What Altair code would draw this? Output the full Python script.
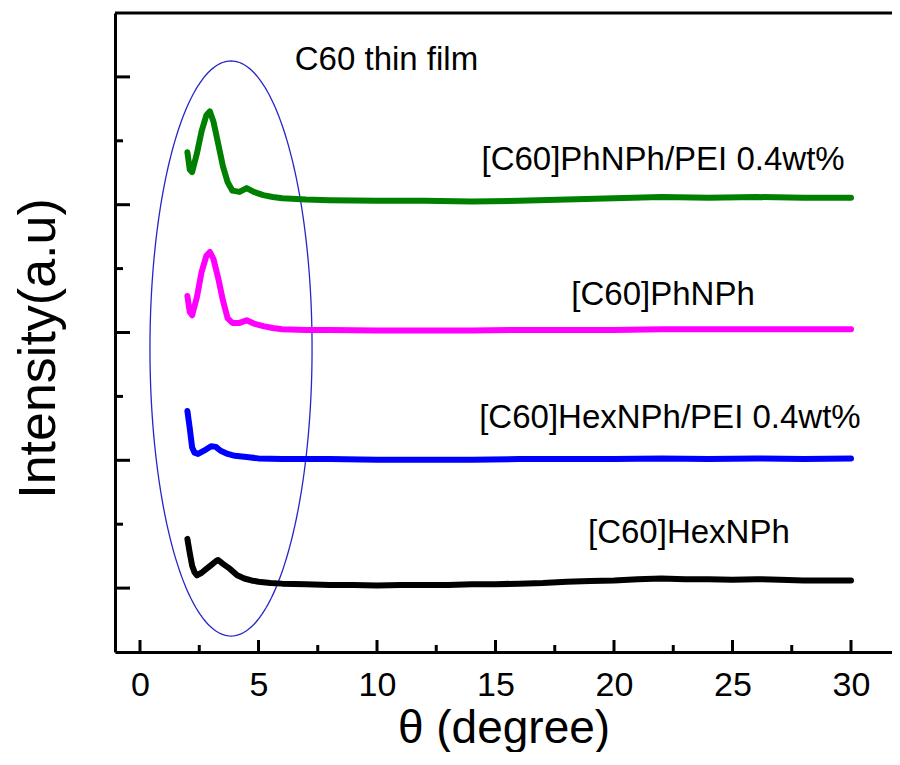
import altair as alt
import numpy as np
import pandas as pd

FONT = "Liberation Sans"

# ---- data (x = theta in degree, y = offset intensity, a.u.) ----
hex_x = [2.0, 2.1, 2.2, 2.3, 2.4, 2.6, 2.8, 3.0, 3.2, 3.3, 3.5, 3.8, 4.1, 4.4, 4.7, 5.0, 5.5, 6.0,
         7, 8, 9, 10, 11, 12, 13, 14, 15, 16, 17, 18, 19, 20, 21, 22, 23, 24, 25, 26, 27, 28, 29, 30]
hex_y = [0.77, 0.55, 0.35, 0.25, 0.20, 0.24, 0.30, 0.36, 0.42, 0.44, 0.38, 0.30, 0.20, 0.15, 0.12, 0.10, 0.08, 0.07,
         0.06, 0.05, 0.05, 0.04, 0.05, 0.05, 0.05, 0.06, 0.06, 0.07, 0.08, 0.10, 0.11, 0.12, 0.14, 0.15, 0.14, 0.14,
         0.13, 0.14, 0.13, 0.12, 0.12, 0.12]

hexpei_x = [2.0, 2.1, 2.2, 2.3, 2.45, 2.7, 3.0, 3.2, 3.4, 3.7, 4.0, 4.5, 5.0, 6, 8, 10, 12, 14, 16, 18, 20,
            22, 24, 26, 28, 30]
hexpei_y = [2.77, 2.50, 2.20, 2.12, 2.10, 2.15, 2.22, 2.21, 2.15, 2.10, 2.07, 2.05, 2.03, 2.02, 2.02, 2.01,
            2.01, 2.01, 2.02, 2.02, 2.02, 2.03, 2.02, 2.03, 2.02, 2.03]

ph_x = [2.0, 2.1, 2.2, 2.4, 2.6, 2.8, 2.95, 3.1, 3.3, 3.5, 3.7, 3.9, 4.2, 4.5, 4.8, 5.2, 5.6, 6.0,
        7, 8, 10, 12, 14, 16, 18, 20, 22, 24, 26, 28, 30]
ph_y = [4.57, 4.32, 4.27, 4.55, 4.95, 5.20, 5.26, 5.15, 4.85, 4.50, 4.22, 4.15, 4.15, 4.19, 4.14, 4.10, 4.07,
        4.05, 4.04, 4.04, 4.03, 4.03, 4.03, 4.04, 4.04, 4.04, 4.05, 4.05, 4.05, 4.05, 4.05]

phpei_x = [2.0, 2.1, 2.2, 2.4, 2.6, 2.8, 2.95, 3.1, 3.3, 3.5, 3.7, 3.9, 4.2, 4.5, 4.8, 5.2, 5.6, 6.0,
           7, 8, 10, 12, 14, 16, 18, 20, 22, 24, 26, 28, 30]
phpei_y = [6.82, 6.55, 6.51, 6.80, 7.15, 7.40, 7.46, 7.30, 6.95, 6.60, 6.35, 6.22, 6.20, 6.26, 6.20, 6.15,
           6.12, 6.10, 6.08, 6.07, 6.06, 6.06, 6.05, 6.06, 6.08, 6.10, 6.12, 6.11, 6.12, 6.11, 6.11]

series_names = ["[C60]HexNPh", "[C60]HexNPh/PEI 0.4wt%", "[C60]PhNPh", "[C60]PhNPh/PEI 0.4wt%"]
series_colors = ["#000000", "#0000FF", "#FF00FF", "#008000"]

label_texts = ["[C60]HexNPh", "[C60]HexNPh/PEI 0.4wt%", "[C60]PhNPh", "[C60]PhNPh/PEI 0.4wt%", "C60 thin film"]
label_x = [23.16, 22.36, 22.07, 22.07, 10.4]
label_y = [0.86, 2.66, 4.59, 6.70, 8.26]

x_ticks_major = [0, 5, 10, 15, 20, 25, 30]
x_ticks_minor = [2.5, 7.5, 12.5, 17.5, 22.5, 27.5]
y_ticks_major = [0, 2, 4, 6, 8]
y_ticks_minor = [1, 3, 5, 7]

# annotation ellipse (center and radii in data units)
ell_cx, ell_cy, ell_rx, ell_ry = 3.84, 3.75, 3.42, 4.5

# ---- tables ----
rows = []
for name, xs, ys in zip(series_names, [hex_x, hexpei_x, ph_x, phpei_x], [hex_y, hexpei_y, ph_y, phpei_y]):
    for a, b in zip(xs, ys):
        rows.append({"series": name, "x": a, "y": b})
lines_df = pd.DataFrame(rows)

t = np.linspace(0, 2 * np.pi, 241)
ell_df = pd.DataFrame({"x": ell_cx + ell_rx * np.cos(t), "y": ell_cy + ell_ry * np.sin(t), "i": np.arange(len(t))})

labels_df = pd.DataFrame({"text": label_texts, "x": label_x, "y": label_y})

xscale = alt.Scale(domain=[-1.055, 31.73], nice=False, zero=False)
yscale = alt.Scale(domain=[-1, 9], nice=False, zero=False)

W, H = 777, 639

xaxis = alt.Axis(values=x_ticks_major, ticks=False, grid=False, domainColor="black", domainWidth=3,
                 labelFont=FONT, labelFontSize=34, labelColor="black", labelPadding=16, labelFlush=False,
                 labelOverlap=False, title="θ (degree)", titleFont=FONT, titleFontSize=46,
                 titleFontWeight="normal", titleColor="black", titleBaseline="alphabetic", titleY=90)
yaxis = alt.Axis(labels=False, ticks=False, grid=False, domainColor="black", domainWidth=3,
                 title="Intensity(a.u)", titleFont=FONT, titleFontSize=52, titleFontWeight="normal",
                 titleColor="black", titlePadding=50, titleY=335)

X = alt.X("x:Q", scale=xscale, axis=xaxis)
Y = alt.Y("y:Q", scale=yscale, axis=yaxis)

lines = alt.Chart(lines_df).mark_line(strokeWidth=6, strokeJoin="round", strokeCap="round", clip=True).encode(
    x=X, y=Y,
    color=alt.Color("series:N", scale=alt.Scale(domain=series_names, range=series_colors), legend=None),
)

ellipse = alt.Chart(ell_df).mark_line(color="#2626C8", strokeWidth=1.3, clip=True).encode(
    x=X, y=Y, order=alt.Order("i:Q")
)

texts = alt.Chart(labels_df).mark_text(font=FONT, fontSize=33, color="black", align="center",
                                       baseline="middle").encode(x=X, y=Y, text="text:N")

xmaj = alt.Chart(pd.DataFrame({"x": x_ticks_major})).mark_rule(color="black", strokeWidth=3).encode(
    x=X, y=alt.value(H), y2=alt.value(H - 12))
xmin = alt.Chart(pd.DataFrame({"x": x_ticks_minor})).mark_rule(color="black", strokeWidth=3).encode(
    x=X, y=alt.value(H), y2=alt.value(H - 7))
ymaj = alt.Chart(pd.DataFrame({"y": y_ticks_major})).mark_rule(color="black", strokeWidth=3).encode(
    y=Y, x=alt.value(0), x2=alt.value(15))
ymin = alt.Chart(pd.DataFrame({"y": y_ticks_minor})).mark_rule(color="black", strokeWidth=3).encode(
    y=Y, x=alt.value(0), x2=alt.value(8))
top = alt.Chart(pd.DataFrame({"y": [9]})).mark_rule(color="black", strokeWidth=3).encode(
    y=alt.value(0), x=alt.value(0), x2=alt.value(W))

chart = alt.layer(ellipse, lines, texts, xmaj, xmin, ymaj, ymin, top).properties(
    width=W, height=H,
    padding={"left": 107, "top": 5, "right": 0, "bottom": 100},
    autosize=alt.AutoSizeParams(type="none"),
).configure_view(stroke=None)

chart.save("out.html", embed_options={"renderer": "svg", "actions": False})
